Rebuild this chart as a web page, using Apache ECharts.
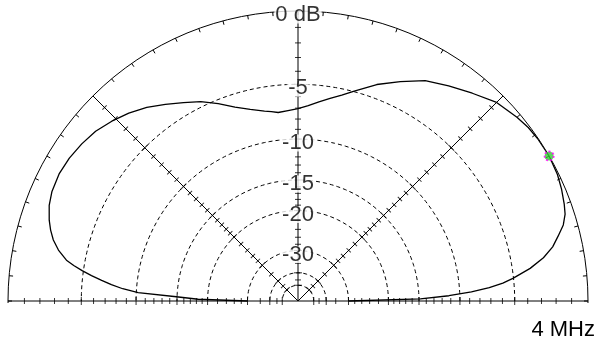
<!DOCTYPE html>
<html>
<head>
<meta charset="utf-8">
<script src="https://cdn.jsdelivr.net/npm/echarts@6/dist/echarts.min.js"></script>
<style>
  html, body { margin: 0; padding: 0; background: #fff; }
  #chart { width: 596px; height: 342px; }
</style>
</head>
<body>
<div id="chart"></div>
<script>
// Elevation pattern: angle above the horizon (deg) and field gain (dB, 0 = maximum)
const elevationDeg = [0, 1, 2, 3, 4, 5, 6, 8, 10, 12, 14, 16, 18, 20, 23, 26, 30, 34, 37, 40,
  45, 50, 55, 60, 65, 70, 75, 78, 81, 84, 87, 90, 93, 96, 98, 100, 104, 108, 112, 116,
  120, 124, 128, 132, 136, 140, 144, 148, 152, 156, 159, 162, 164, 166, 168, 170, 171,
  172, 173, 174, 175, 176, 177, 178, 179, 180];
const gainDb = [-30, -14.8, -11.2, -8.8, -7.1, -5.9, -5.05, -3.65, -2.6, -1.85, -1.35, -0.85,
  -0.55, -0.4, -0.22, -0.08, 0, -0.03, -0.1, -0.25,
  -0.55, -1.15, -1.7, -2.25, -3.1, -3.95, -4.95, -5.5, -5.95, -6.35, -6.75, -7.05, -7.2,
  -7.3, -7.15, -7.0, -6.6, -6.05, -5.3, -4.6,
  -4.05, -3.45, -2.85, -2.35, -1.95, -1.6, -1.4, -1.25, -1.19, -1.27, -1.45, -1.77, -2.05,
  -2.4, -2.9, -3.6, -4.2,
  -4.9, -5.7, -6.6, -7.5, -8.6, -10.2, -14.9, -18.3, -30];

// Dashed reference rings and their labels
const ringDb = [-5, -10, -15, -20, -30, -40, -50];
const labelDb = [0, -5, -10, -15, -20, -30];
const labelText = ['0 dB', '-5', '-10', '-15', '-20', '-30'];

// Tick marks along the radial axes
const tickDb = [-1, -2, -3, -4, -5, -6, -7, -8, -9, -10, -11, -12, -13, -14, -15, -16, -17,
  -18, -19, -20, -22, -24, -26, -28, -30, -35, -40, -45, -50];
const axisAngles = [0, 45, 90, 135, 180];

const frequencyLabel = '4 MHz';

// ARRL log-periodic scale: radius shrinks by a factor 0.89 for every 2 dB
const arrl = db => Math.pow(0.89, -db / 2);

const FONT = '"Liberation Sans", Arial, sans-serif';
const INK = '#000';

const curveData = elevationDeg.map((a, i) => [arrl(gainDb[i]), a]);

// max-gain cursor
let peak = 0;
gainDb.forEach((g, i) => { if (g > gainDb[peak]) peak = i; });

const halfCircle = [];
for (let a = 0; a <= 180; a += 1) halfCircle.push(a);

const ringSeries = ringDb.map(db => ({
  type: 'line', coordinateSystem: 'polar', silent: true, showSymbol: false, z: 3,
  lineStyle: { color: INK, width: 1, type: [4, 3] },
  data: halfCircle.map(a => [arrl(db), a])
}));

const spokeSeries = axisAngles.map(a => ({
  type: 'line', coordinateSystem: 'polar', silent: true, showSymbol: false, z: 3,
  lineStyle: { color: INK, width: 1 },
  data: [[0, a], [1, a]]
}));

const tickData = [];
axisAngles.forEach(a => {
  tickDb.forEach(db => {
    const major = ringDb.indexOf(db) >= 0;
    tickData.push({ value: [arrl(db), a], symbolRotate: a, symbolSize: major ? [1, 8] : [1, 6] });
  });
});

const chart = echarts.init(document.getElementById('chart'), null, { renderer: 'canvas' });
chart.setOption({
  animation: false,
  backgroundColor: '#fff',
  polar: { center: [298, 301], radius: 290 },
  angleAxis: {
    type: 'value', min: 0, max: 360, interval: 5, startAngle: 0, clockwise: false, z: 0,
    axisLine: { show: true, lineStyle: { color: INK, width: 1 } },
    axisTick: { show: true, inside: true, length: 4, lineStyle: { color: INK, width: 1 } },
    axisLabel: { show: false },
    splitLine: { show: false }
  },
  radiusAxis: {
    type: 'value', min: 0, max: 1, z: 0,
    axisLine: { show: false }, axisTick: { show: false },
    axisLabel: { show: false }, splitLine: { show: false }
  },
  graphic: [
    { type: 'rect', z: 1, shape: { x: 0, y: 303, width: 596, height: 40 }, style: { fill: '#fff' } },
    {
      type: 'text', z: 20, x: 595, y: 330,
      style: { text: frequencyLabel, font: '22px ' + FONT, fill: INK, align: 'right', verticalAlign: 'middle' }
    }
  ],
  series: [
    ...ringSeries,
    ...spokeSeries,
    {
      type: 'scatter', coordinateSystem: 'polar', silent: true, z: 4,
      symbol: 'rect', itemStyle: { color: INK },
      data: tickData
    },
    {
      type: 'scatter', coordinateSystem: 'polar', silent: true, z: 6,
      symbolSize: 1, itemStyle: { color: 'rgba(0,0,0,0)' },
      label: {
        show: true, position: 'inside', offset: [0, 4],
        formatter: p => labelText[p.dataIndex],
        fontFamily: FONT, fontSize: 22, color: INK,
        backgroundColor: '#fff', padding: [0, 1], lineHeight: 17
      },
      data: labelDb.map(db => [arrl(db), 90])
    },
    {
      type: 'line', coordinateSystem: 'polar', silent: true, showSymbol: false, z: 8,
      lineStyle: { color: INK, width: 1.3 },
      data: curveData
    },
    {
      type: 'scatter', coordinateSystem: 'polar', silent: true, z: 9,
      symbol: 'circle', symbolSize: 9,
      itemStyle: { color: '#33cc33', borderColor: '#ff00ff', borderWidth: 2, borderType: 'dotted' },
      data: [[arrl(gainDb[peak]), elevationDeg[peak]]]
    }
  ]
});
</script>
</body>
</html>
